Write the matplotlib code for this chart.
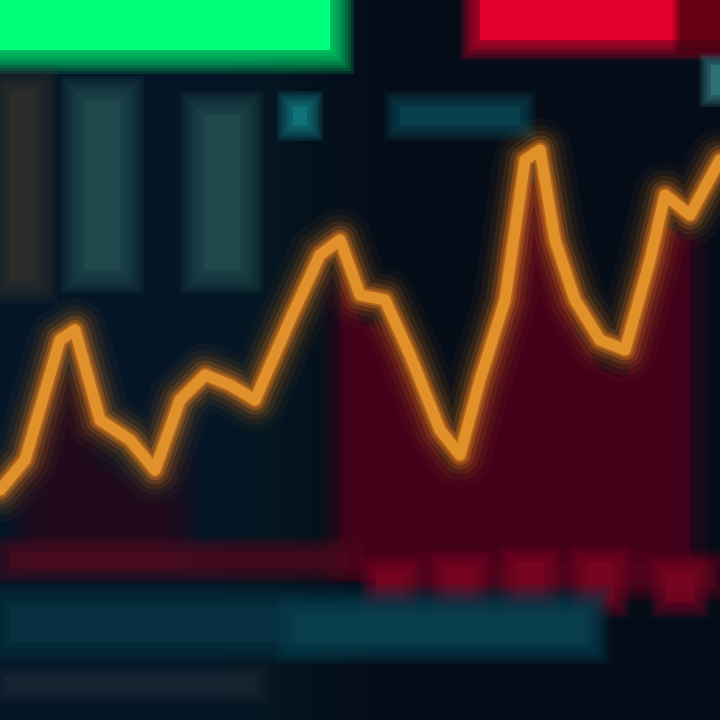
import numpy as np
import matplotlib.pyplot as plt

# price line (x position, price level)
px = [0, 25, 60, 75, 100, 130, 155, 180, 205, 230, 255, 290, 320, 340, 360, 385,
      410, 440, 460, 480, 505, 525, 540, 555, 575, 600, 625, 650, 665, 690, 720]
py = [230, 260, 380, 390, 300, 280, 250, 320, 345, 335, 320, 400, 465, 480, 425, 420,
      365, 290, 265, 340, 420, 560, 570, 480, 420, 380, 370, 460, 525, 505, 560]

# faint teal columns in the upper left
col_x = [22, 102, 222]
col_w = [24, 36, 36]
col_top = [630, 620, 605]
col_bot = [440, 450, 450]
col_c = ['#3a3630', '#2a5a5c', '#2a5a5c']

# volume strip at the bottom
vol_x = [390, 460, 530, 600, 680]
vol_h = [30, 35, 40, 40, 30]

bg = '#040c18'
fig = plt.figure(figsize=(7.2, 7.2), dpi=100, facecolor=bg)
ax = fig.add_axes([0, 0, 1, 1])
ax.set_facecolor(bg)
ax.set_xlim(0, 720)
ax.set_ylim(0, 720)
ax.axis('off')

def glow_bar(x, bottom, h, w, color, a=0.9, n=8, spread=20, core=0.6):
    for i in range(n, 0, -1):
        s = spread * i / n
        ax.bar(x, h + 2 * s, width=w + 2 * s, bottom=bottom - s, color=color,
               alpha=a / n * 1.2, linewidth=0)
    ax.bar(x, h, width=w, bottom=bottom, color=color, alpha=a * core, linewidth=0)

# left background glow, fading out to the right
for x1 in range(200, 380, 12):
    ax.fill_between([0, x1], 0, 720, color='#0e2434', alpha=0.07, linewidth=0)

# top blocks
glow_bar(160, 670, 60, 340, '#00ff7a', a=1.0, spread=24, core=1.0)
glow_bar(600, 680, 50, 240, '#e0002a', a=1.0, spread=20, core=1.0)
glow_bar(700, 670, 60, 40, '#3a0010', a=0.6, spread=8)

# teal columns and markers
for x, w, t, b, c in zip(col_x, col_w, col_top, col_bot, col_c):
    glow_bar(x, b, t - b, w, c, a=0.8, spread=24, core=0.4)
glow_bar(300, 595, 18, 14, '#138088', a=1.0, spread=16)
glow_bar(460, 595, 18, 120, '#0c4c58', a=0.9, spread=16)
glow_bar(716, 625, 30, 10, '#3a8a90', a=0.8, spread=12)

# dark red area under the line, softened at the edges
xs = np.array(px, dtype=float)
ys = np.array(py, dtype=float)
m = (xs >= 330) & (xs <= 700)
for dx in range(-18, 19, 6):
    ax.fill_between(xs[m] + dx, 140, ys[m] - 25, color='#4a0018',
                    alpha=0.16, linewidth=0)
ax.fill_between(xs[m], 150, ys[m] - 30, color='#4e001a', alpha=0.6, linewidth=0)
m2 = (xs >= 20) & (xs <= 200)
for dx in range(-18, 19, 6):
    ax.fill_between(xs[m2] + dx, 150, ys[m2] - 40, color='#30081a',
                    alpha=0.16, linewidth=0)

# red strip and teal strip at the bottom
glow_bar(180, 152, 16, 340, '#4e0a1e', a=0.9, spread=16)
glow_bar(550, 132, 26, 330, '#560420', a=0.9, spread=14)
for x, h in zip(vol_x, vol_h):
    glow_bar(x, 118, h, 28, '#7e0424', a=0.9, spread=16)
glow_bar(300, 78, 36, 580, '#0a3848', a=0.9, spread=22)
glow_bar(440, 76, 30, 290, '#0c4656', a=0.6, spread=20)
glow_bar(130, 28, 16, 250, '#1e2a36', a=0.7, spread=14)

# glowing price line
for lw, a in [(46, 0.05), (36, 0.08), (28, 0.12), (21, 0.2), (15, 0.35), (11, 0.5)]:
    ax.plot(px, py, color='#d8781c', lw=lw, alpha=a, solid_capstyle='round',
            solid_joinstyle='round')
ax.plot(px, py, color='#eb9a2e', lw=8, alpha=0.85, solid_capstyle='round',
        solid_joinstyle='round')

fig.savefig('out.png', dpi=100, facecolor=bg)
